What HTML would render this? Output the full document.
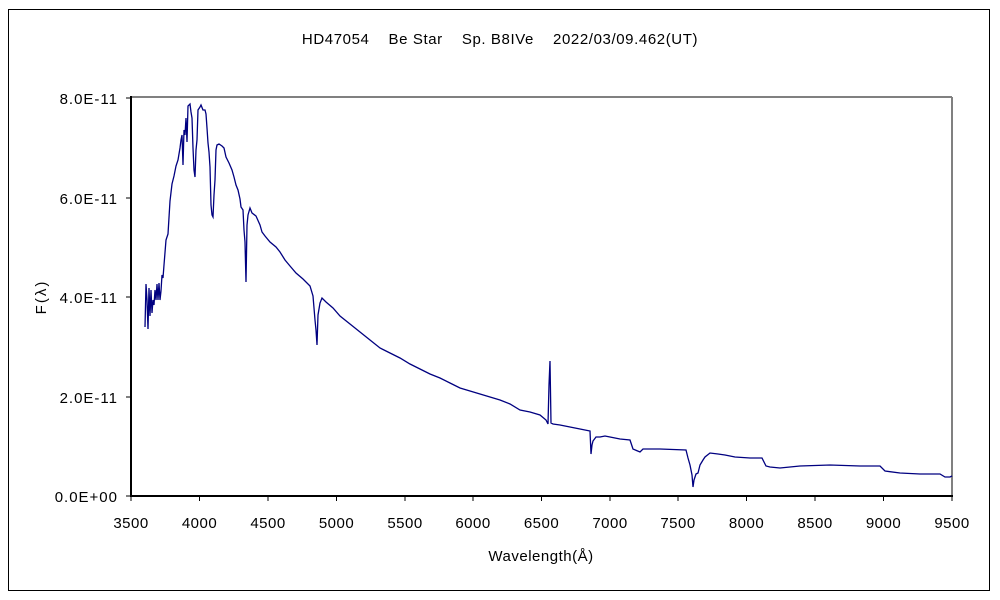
<!DOCTYPE html>
<html><head><meta charset="utf-8"><style>
html,body{margin:0;padding:0;background:#fff;}
svg{display:block;font-family:"Liberation Sans","Noto Sans CJK JP",sans-serif;}
</style></head><body>
<svg width="1000" height="600" viewBox="0 0 1000 600">
<rect x="8.5" y="9.5" width="981" height="581" fill="#fff" stroke="#000" stroke-width="1"/>
<text x="500" y="44" font-size="15" letter-spacing="0.6" text-anchor="middle" fill="#000" xml:space="preserve">HD47054    Be Star    Sp. B8IVe    2022/03/09.462(UT)</text>
<line x1="131" y1="97" x2="952" y2="97" stroke="#808080" stroke-width="2"/>
<line x1="952" y1="97" x2="952" y2="496" stroke="#808080" stroke-width="2"/>
<line x1="131" y1="96" x2="131" y2="497" stroke="#000" stroke-width="2"/>
<line x1="130" y1="496" x2="953" y2="496" stroke="#000" stroke-width="2"/>
<g stroke="#000" stroke-width="1">
<line x1="126" y1="98" x2="131" y2="98"/><line x1="126" y1="198" x2="131" y2="198"/><line x1="126" y1="297" x2="131" y2="297"/><line x1="126" y1="397" x2="131" y2="397"/><line x1="126" y1="496" x2="131" y2="496"/>
<line x1="131" y1="496" x2="131" y2="501"/><line x1="199.5" y1="496" x2="199.5" y2="501"/><line x1="268" y1="496" x2="268" y2="501"/><line x1="336.5" y1="496" x2="336.5" y2="501"/><line x1="405" y1="496" x2="405" y2="501"/><line x1="473" y1="496" x2="473" y2="501"/><line x1="541.5" y1="496" x2="541.5" y2="501"/><line x1="610" y1="496" x2="610" y2="501"/><line x1="678" y1="496" x2="678" y2="501"/><line x1="746.5" y1="496" x2="746.5" y2="501"/><line x1="815" y1="496" x2="815" y2="501"/><line x1="883.5" y1="496" x2="883.5" y2="501"/><line x1="952" y1="496" x2="952" y2="501"/>
</g>
<g font-size="15" letter-spacing="1" fill="#000" text-anchor="end">
<text x="118" y="104">8.0E-11</text><text x="118" y="204">6.0E-11</text><text x="118" y="303">4.0E-11</text><text x="118" y="403">2.0E-11</text><text x="118" y="502">0.0E+00</text>
</g>
<g font-size="15" letter-spacing="0.5" fill="#000" text-anchor="middle">
<text x="131" y="528">3500</text><text x="199.5" y="528">4000</text><text x="268" y="528">4500</text><text x="336.5" y="528">5000</text><text x="405" y="528">5500</text><text x="473" y="528">6000</text><text x="541.5" y="528">6500</text><text x="610" y="528">7000</text><text x="678" y="528">7500</text><text x="746.5" y="528">8000</text><text x="815" y="528">8500</text><text x="883.5" y="528">9000</text><text x="952" y="528">9500</text>
</g>
<text x="541" y="561" font-size="15" letter-spacing="0.5" text-anchor="middle">Wavelength(Å)</text>
<text x="46" y="297" font-size="15" letter-spacing="2" text-anchor="middle" transform="rotate(-90 46 297)">F(λ)</text>
<polyline fill="none" stroke="#000080" stroke-width="1.3" stroke-linejoin="miter" points="
145,327 146,284 147,300 148,329 149,288 150,316 151,290 152,313 153,300 154,305 155,290 156,300 157,284 158,300 159,283 160,300 161,291 162,275 163,278 164,265 166,240 168,234 170,201 172,184 174,176 176,166 178,160 180,148 181,140 182,135 183,165 184,130 185,135 186,118 187,142 188,106 190,104 191,112 192,118 193,148 194,170 195,177 196,150 197,140 198,110 200,107 201,105 203,110 205,110 206,114 207,128 208,143 209,152 210,167 211,205 212,215 213,217 214,195 215,180 216,150 217,145 219,144 222,146 224,148 226,157 229,163 232,170 234,177 236,185 238,190 240,199 241,207 243,210 244,230 245,242 246,282 247,225 248,215 250,208 252,213 256,216 260,225 262,232 265,236 270,242 276,247 280,252 285,260 290,266 296,273 303,279 310,286 313,296 315,320 316,330 317,345 318,315 320,303 322,298 326,302 333,308 340,316 350,324 360,332 370,340 380,348 390,353 400,358 410,364 420,369 430,374 440,378 450,383 460,388 470,391 480,394 490,397 500,400 510,404 520,410 530,412 540,415 546,420 548,424 549,385 550,361 551,423 553,424 560,425 570,427 580,429 590,431 591,454 592,445 593,441 596,437 600,437 605,436 610,437 620,439 630,440 633,449 640,452 643,449 650,449 660,449 686,450 688,458 690,465 692,475 693,487 694,480 696,474 698,473 700,465 703,460 705,457 710,453 718,454 725,455 735,457 750,458 762,458 766,466 770,467 780,468 800,466 830,465 860,466 880,466 885,471 900,473 920,474 940,474 945,477 950,477 952,476"/>
</svg>
</body></html>
